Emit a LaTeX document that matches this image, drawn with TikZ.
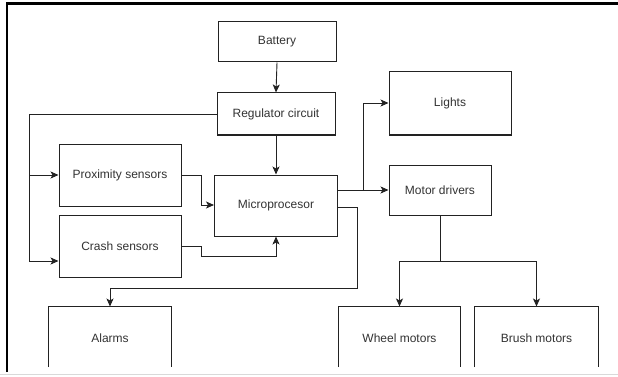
\documentclass[tikz,border=0pt]{standalone}
\usepackage{fontspec}
\setmainfont{Liberation Sans}
\usetikzlibrary{arrows.meta}
\definecolor{ink}{HTML}{222222}
\definecolor{txt}{HTML}{333333}
\begin{document}
\begin{tikzpicture}[x=1pt,y=-1pt,
  blk/.style={draw=ink,line width=1pt,fill=white,minimum width=#1,inner sep=0pt,
    font=\fontsize{12}{14}\selectfont,text=txt},
  blk/.default=122pt,
  openblk/.style={blk=#1,draw=none},
  link/.style={draw=ink,line width=0.9pt},
  arr/.style={link,-{Stealth[length=8pt,width=7pt,inset=2pt]}}]
\useasboundingbox (0,0) rectangle (618,377);
\fill[white] (0,0) rectangle (618,377);

% page frame
\draw[black,line width=2.5pt] (7,372) -- (7,3.5) -- (618,3.5);
\draw[black!15,line width=1.5pt] (0,374.5) -- (618,374.5);

% blocks
\node[blk=118pt,minimum height=40pt] (bat) at (277,42) {Battery};
\node[blk=118pt,minimum height=42pt] (reg) at (276,114) {Regulator circuit};
\node[blk=122pt,minimum height=62pt] (prox) at (120,175) {Proximity sensors};
\node[blk=123pt,minimum height=61pt] (mcu) at (276,205.5) {Microprocesor};
\node[blk=122pt,minimum height=62pt] (crash) at (120,246) {Crash sensors};
\node[blk=122pt,minimum height=63pt] (lights) at (450,103.5) {Lights};
\node[blk=102pt,minimum height=50pt] (mdrv) at (440,190) {Motor drivers};

% bottom row, cut off at the lower edge
\node[openblk=122pt,minimum height=62pt] (alarm) at (110,338) {Alarms};
\node[openblk=121pt,minimum height=62pt] (wheel) at (399.5,338) {Wheel motors};
\node[openblk=123pt,minimum height=62pt] (brush) at (536.5,338) {Brush motors};
\foreach \b in {alarm,wheel,brush}{
  \draw[link,line width=1pt] (\b.south west |- 0,367) -- (\b.north west) -- (\b.north east) -- (\b.south east |- 0,367);
}

% power distribution
\draw[arr] (bat.south) -- (reg.north);
\draw[arr] (reg.south) -- (mcu.north);
\coordinate (busL) at (29,114);
\draw[arr] (reg.west) -- (busL) |- ([yshift=-15pt]crash.west);
\draw[arr] (busL |- prox.west) -- (prox.west);

% sensor inputs
\coordinate (pj) at (201,175);
\draw[arr] (prox.east) -- (pj) |- ([yshift=0.5pt]mcu.west);
\coordinate (cj) at (201,246);
\draw[arr] (crash.east) -- (cj) -- (201,256) -| (mcu.south);

% outputs
\coordinate (oj) at (363,190);
\draw[arr] ([yshift=15.5pt]mcu.east) -- (mdrv.west);
\draw[arr] (oj) |- ([yshift=0.5pt]lights.west);
\coordinate (aj) at (357,207);
\draw[arr] ([yshift=-1.5pt]mcu.east) -- (aj) -- (357,288) -| (alarm.north);

% motor outputs
\coordinate (mj) at (440,261);
\draw[link] (mdrv.south) -- (mj);
\draw[arr] (mj) -| (wheel.north);
\draw[arr] (mj) -| (brush.north);
\end{tikzpicture}
\end{document}
